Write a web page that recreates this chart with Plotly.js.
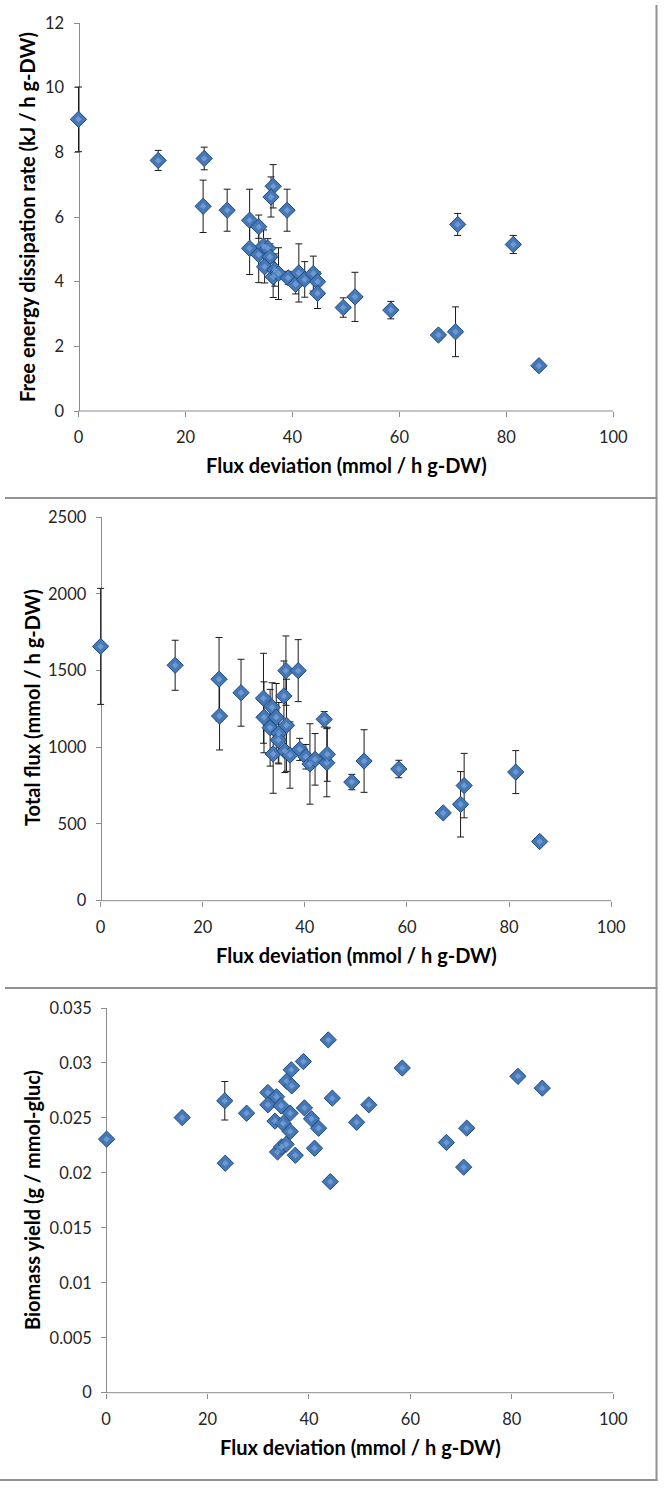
<!DOCTYPE html>
<html>
<head>
<meta charset="utf-8">
<script src="https://cdn.plot.ly/plotly-3.0.1.min.js"></script>
<style>
html,body{margin:0;padding:0;background:#fff;}
#chart{width:664px;height:1488px;}
</style>
</head>
<body>
<div id="chart"></div>
<script>
// ---- Panel 1: free energy dissipation rate ----
const fedX = [0, 14.9, 23.5, 23.3, 27.8, 32.0, 33.7, 36.4, 36.0, 39.0, 32.0, 33.7, 34.6, 35.4, 35.8, 34.8, 36.7, 36.4, 37.4, 39.2, 40.6, 41.2, 42.3, 43.9, 44.7, 44.7, 49.5, 51.7, 58.4, 67.3, 70.5, 70.9, 81.3, 86.1];
const fedY = [9.02, 7.75, 7.81, 6.33, 6.21, 5.90, 5.70, 6.95, 6.62, 6.21, 5.03, 4.84, 5.10, 5.03, 4.77, 4.46, 4.36, 4.15, 4.25, 4.12, 3.92, 4.27, 4.07, 4.25, 4.00, 3.64, 3.20, 3.53, 3.12, 2.35, 2.45, 5.77, 5.15, 1.40];
const fedErr = [1.00, 0.31, 0.35, 0.81, 0.65, 0.96, 0.36, 0.67, 0.62, 0.65, 0.81, 0.87, 0.50, 0.30, 0.40, 0.50, 0.50, 0.64, 0.80, 0.20, 0.30, 0.90, 0.55, 0.54, 0.30, 0.47, 0.30, 0.76, 0.27, 0.15, 0.77, 0.34, 0.28, 0.08];

// ---- Panel 2: total flux ----
const tfX = [0, 14.6, 23.2, 23.3, 27.5, 31.9, 32.0, 33.6, 33.2, 34.4, 33.8, 34.9, 34.8, 35.9, 36.3, 36.4, 36.1, 37.1, 38.7, 39.0, 40.2, 41.0, 42.0, 43.8, 44.3, 44.4, 49.2, 51.6, 58.4, 67.1, 70.5, 71.2, 81.3, 86.0];
const tfY = [1657, 1534, 1443, 1203, 1355, 1319, 1195, 1260, 1127, 1195, 956, 1091, 1047, 1334, 1499, 1143, 975, 949, 1499, 986, 938, 891, 921, 1182, 899, 954, 773, 910, 858, 572, 628, 750, 838, 386];
const tfErr = [378, 163, 272, 221, 218, 293, 231, 160, 250, 220, 256, 200, 150, 228, 226, 300, 140, 216, 202, 72, 80, 262, 168, 50, 222, 176, 50, 204, 57, 25, 213, 210, 140, 20];

// ---- Panel 3: biomass yield ----
const byX = [0.1, 15.0, 23.4, 23.5, 27.7, 31.9, 31.9, 33.6, 34.5, 33.3, 33.8, 34.9, 34.6, 35.5, 35.6, 36.5, 36.6, 36.3, 36.3, 37.3, 38.9, 39.1, 40.5, 41.1, 41.9, 43.8, 44.2, 44.6, 49.4, 51.8, 58.4, 67.1, 70.5, 71.1, 81.2, 86.0];
const byY = [0.02307, 0.02503, 0.02656, 0.02088, 0.02543, 0.02731, 0.02619, 0.02692, 0.02610, 0.02471, 0.02190, 0.02449, 0.02236, 0.02260, 0.02834, 0.02938, 0.02791, 0.02543, 0.02376, 0.02160, 0.03013, 0.02591, 0.02492, 0.02224, 0.02406, 0.03210, 0.01920, 0.02680, 0.02460, 0.02619, 0.02954, 0.02277, 0.02052, 0.02407, 0.02878, 0.02771];
const byErr = [null, null, 0.00175, null, null, null, null, null, null, null, null, null, null, null, null, null, null, null, null, null, null, null, null, null, null, null, null, null, null, null, null, null, null, null, null, null];

// ---- Axis ticks and titles ----
const xTicks = [0, 20, 40, 60, 80, 100];
const xTickText = ['0', '20', '40', '60', '80', '100'];
const y1Ticks = [0, 2, 4, 6, 8, 10, 12];
const y1TickText = ['0', '2', '4', '6', '8', '10', '12'];
const y2Ticks = [0, 500, 1000, 1500, 2000, 2500];
const y2TickText = ['0', '500', '1000', '1500', '2000', '2500'];
const y3Ticks = [0, 0.005, 0.01, 0.015, 0.02, 0.025, 0.03, 0.035];
const y3TickText = ['0', '0.005', '0.01', '0.015', '0.02', '0.025', '0.03', '0.035'];
const xTitle = 'Flux deviation (mmol / h g-DW)';
const y1Title = 'Free energy dissipation rate (kJ / h g-DW)';
const y2Title = 'Total flux (mmol / h g-DW)';
const y3Title = 'Biomass yield (g / mmol-gluc)';

const W = 664, H = 1488;
const px = v => v / W;
const py = v => 1 - v / H;
const PAD = 8; // px of room left of x=0 so the error bars at x=0 are not clipped

const marker = {symbol: 'diamond', size: 12.5, color: '#4678b8', line: {color: '#1f4a7c', width: 1}};
const hiMarker = {symbol: 'diamond', size: 5, color: 'rgba(140,180,230,0.55)', line: {width: 0}};

function pts(x, y, err, xa, ya) {
  return [{
    type: 'scatter', mode: 'markers', x: x, y: y, xaxis: xa, yaxis: ya, cliponaxis: false,
    marker: marker,
    error_y: {type: 'data', array: err, visible: true, color: '#1a1a1a', thickness: 1, width: 3.5},
    hoverinfo: 'x+y'
  }, {
    type: 'scatter', mode: 'markers', x: x, y: y, xaxis: xa, yaxis: ya, cliponaxis: false,
    marker: hiMarker, hoverinfo: 'skip'
  }];
}

const data = [].concat(
  pts(fedX, fedY, fedErr, 'x', 'y'),
  pts(tfX, tfY, tfErr, 'x2', 'y2'),
  pts(byX, byY, byErr, 'x3', 'y3')
);

const tickFont = {family: 'Lato, "Open Sans", sans-serif', size: 16.5, color: '#262626'};
const axisColor = '#8c8c8c';
function xAxis(x0, x100, anchor) {
  const lo = -PAD * 100 / (x100 - x0);
  return {domain: [px(x0 - PAD), px(x100)], anchor: anchor, range: [lo, 100], tickvals: xTicks, ticktext: xTickText,
    showgrid: false, zeroline: false, showline: false,
    ticks: 'outside', ticklen: 5, tickcolor: axisColor, tickfont: tickFont, ticklabelstandoff: 6,
    layer: 'below traces', fixedrange: true};
}
function yAxis(x0, ybot, ytop, r, tv, tt) {
  return {domain: [py(ybot), py(ytop)], anchor: 'free', position: px(x0), range: r, tickvals: tv, ticktext: tt,
    showgrid: false, zeroline: false, showline: true, linecolor: axisColor, linewidth: 1,
    ticks: 'outside', ticklen: 5, tickcolor: axisColor, tickfont: tickFont, ticklabelstandoff: 6,
    layer: 'below traces', fixedrange: true};
}
function xLine(x0, x100, ybot) {
  return {type: 'line', xref: 'paper', yref: 'paper', layer: 'below', x0: px(x0), x1: px(x100), y0: py(ybot), y1: py(ybot),
    line: {color: axisColor, width: 1}};
}

const titleFont = {family: 'Lato, "Open Sans", sans-serif', size: 20, color: '#000', weight: 700};
function ann(text, x, y, angle) {
  return {text: text, xref: 'paper', yref: 'paper', x: px(x), y: py(y), showarrow: false,
    xanchor: 'center', yanchor: 'middle', textangle: angle, font: titleFont};
}

const P1 = {x0: 78.5, x100: 613.3, ybot: 411, ytop: 23};
const P2 = {x0: 100.6, x100: 611.2, ybot: 900.7, ytop: 517};
const P3 = {x0: 106.1, x100: 613.3, ybot: 1392.7, ytop: 1008};

const borderColor = '#929292';
const shapes = [
  {type: 'line', xref: 'paper', yref: 'paper', x0: px(656.5), x1: px(656.5), y0: py(5), y1: py(1481), line: {color: borderColor, width: 2}},
  {type: 'line', xref: 'paper', yref: 'paper', x0: px(5), x1: px(657.5), y0: py(498), y1: py(498), line: {color: borderColor, width: 2}},
  {type: 'line', xref: 'paper', yref: 'paper', x0: px(5), x1: px(657.5), y0: py(988), y1: py(988), line: {color: borderColor, width: 2}},
  {type: 'line', xref: 'paper', yref: 'paper', x0: px(0), x1: px(657.5), y0: py(1480), y1: py(1480), line: {color: borderColor, width: 2}},
  xLine(P1.x0, P1.x100, P1.ybot),
  xLine(P2.x0, P2.x100, P2.ybot),
  xLine(P3.x0, P3.x100, P3.ybot)
];

const layout = {
  width: W, height: H, margin: {l: 0, r: 0, t: 0, b: 0},
  paper_bgcolor: '#fff', plot_bgcolor: 'rgba(0,0,0,0)', showlegend: false,
  xaxis: xAxis(P1.x0, P1.x100, 'y'),
  yaxis: yAxis(P1.x0, P1.ybot, P1.ytop, [0, 12], y1Ticks, y1TickText),
  xaxis2: xAxis(P2.x0, P2.x100, 'y2'),
  yaxis2: yAxis(P2.x0, P2.ybot, P2.ytop, [0, 2500], y2Ticks, y2TickText),
  xaxis3: xAxis(P3.x0, P3.x100, 'y3'),
  yaxis3: yAxis(P3.x0, P3.ybot, P3.ytop, [0, 0.035], y3Ticks, y3TickText),
  annotations: [
    ann(xTitle, 346, 465, 0),
    ann(y1Title, 27, 217, -90),
    ann(xTitle, 356, 955, 0),
    ann(y2Title, 32, 708, -90),
    ann(xTitle, 360, 1447, 0),
    ann(y3Title, 32, 1200, -90)
  ],
  shapes: shapes
};

Plotly.newPlot('chart', data, layout, {displayModeBar: false, staticPlot: true});
</script>
</body>
</html>
